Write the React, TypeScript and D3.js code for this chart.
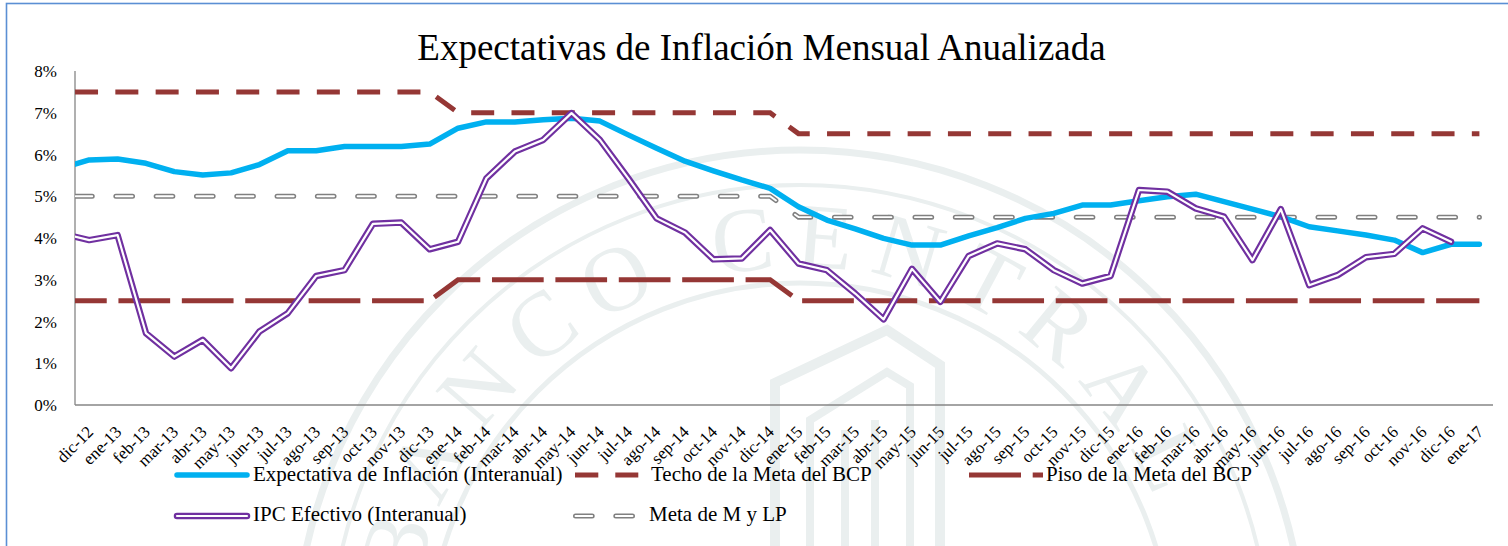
import React from "react";
import * as d3 from "d3";

// first period (nov-12) sits left of the axis and is clipped, like the source chart
const periods = [
  "nov-12", "dic-12",
  "ene-13", "feb-13", "mar-13", "abr-13", "may-13", "jun-13", "jul-13", "ago-13", "sep-13", "oct-13", "nov-13", "dic-13",
  "ene-14", "feb-14", "mar-14", "abr-14", "may-14", "jun-14", "jul-14", "ago-14", "sep-14", "oct-14", "nov-14", "dic-14",
  "ene-15", "feb-15", "mar-15", "abr-15", "may-15", "jun-15", "jul-15", "ago-15", "sep-15", "oct-15", "nov-15", "dic-15",
  "ene-16", "feb-16", "mar-16", "abr-16", "may-16", "jun-16", "jul-16", "ago-16", "sep-16", "oct-16", "nov-16", "dic-16",
  "ene-17",
];

const expectativa = [
  5.67, 5.87,
  5.89, 5.79, 5.59, 5.51, 5.56, 5.76, 6.09, 6.09, 6.19, 6.19, 6.19, 6.25,
  6.63, 6.78, 6.78, 6.83, 6.87, 6.8, 6.47, 6.15, 5.84, 5.61, 5.39, 5.19,
  4.75, 4.43, 4.22, 3.99, 3.83, 3.83, 4.05, 4.25, 4.47, 4.59, 4.79, 4.79,
  4.89, 4.99, 5.05, 4.87, 4.69, 4.51, 4.27, 4.17, 4.07, 3.95, 3.65, 3.85,
  3.85,
];

const ipc = [
  4.11, 3.95,
  4.07, 1.72, 1.16, 1.56, 0.88, 1.76, 2.2, 3.09, 3.23, 4.34, 4.37, 3.73,
  3.91, 5.43, 6.07, 6.35, 6.99, 6.35, 5.43, 4.47, 4.13, 3.49, 3.51, 4.19,
  3.39, 3.23, 2.67, 2.05, 3.26, 2.47, 3.57, 3.87, 3.73, 3.23, 2.91, 3.09,
  5.15, 5.11, 4.71, 4.51, 3.47, 4.69, 2.87, 3.11, 3.54, 3.62, 4.23, 3.91,
  null,
];

const techo = [
  7.5, 7.5,
  7.5, 7.5, 7.5, 7.5, 7.5, 7.5, 7.5, 7.5, 7.5, 7.5, 7.5, 7.5,
  7, 7, 7, 7, 7, 7, 7, 7, 7, 7, 7, 7,
  6.5, 6.5, 6.5, 6.5, 6.5, 6.5, 6.5, 6.5, 6.5, 6.5, 6.5, 6.5,
  6.5, 6.5, 6.5, 6.5, 6.5, 6.5, 6.5, 6.5, 6.5, 6.5, 6.5, 6.5,
  6.5,
];

const piso = [
  2.5, 2.5,
  2.5, 2.5, 2.5, 2.5, 2.5, 2.5, 2.5, 2.5, 2.5, 2.5, 2.5, 2.5,
  3, 3, 3, 3, 3, 3, 3, 3, 3, 3, 3, 3,
  2.5, 2.5, 2.5, 2.5, 2.5, 2.5, 2.5, 2.5, 2.5, 2.5, 2.5, 2.5,
  2.5, 2.5, 2.5, 2.5, 2.5, 2.5, 2.5, 2.5, 2.5, 2.5, 2.5, 2.5,
  2.5,
];

const meta = [
  5, 5,
  5, 5, 5, 5, 5, 5, 5, 5, 5, 5, 5, 5,
  5, 5, 5, 5, 5, 5, 5, 5, 5, 5, 5, 5,
  4.5, 4.5, 4.5, 4.5, 4.5, 4.5, 4.5, 4.5, 4.5, 4.5, 4.5, 4.5,
  4.5, 4.5, 4.5, 4.5, 4.5, 4.5, 4.5, 4.5, 4.5, 4.5, 4.5, 4.5,
  4.5,
];

const yTicks = [0, 1, 2, 3, 4, 5, 6, 7, 8];
const titleText = "Expectativas de Inflación Mensual Anualizada";
const labelExpectativa = "Expectativa de Inflación (Interanual)";
const labelTecho = "Techo de la Meta del BCP";
const labelPiso = "Piso de la Meta del BCP";
const labelIpc = "IPC Efectivo (Interanual)";
const labelMeta = "Meta de M y LP";

const W = 1508;
const H = 546;
const margin = { left: 75, right: 1493, top: 71, bottom: 405 };
const serif = { fontFamily: '"Liberation Serif", "DejaVu Serif", serif' };

const BLUE = "#00B0F0";
const PURPLE = "#7030A0";
const RED = "#953735";
const GRAY = "#808080";
const WM = "#EAEFEF";

function Watermark() {
  const cx = 800;
  const cy = 655;
  const r = 388;
  const arc = `M${cx - r},${cy} A${r},${r} 0 0 1 ${cx + r},${cy}`;
  return (
    <g fill="none" stroke={WM}>
      <circle cx={cx} cy={cy} r={505} strokeWidth={7} />
      <circle cx={cx} cy={cy} r={470} strokeWidth={4} />
      <circle cx={cx} cy={cy} r={372} strokeWidth={5} />
      <path id="wm-arc" d={arc} stroke="none" />
      <text fill={WM} stroke="none" style={serif} fontSize={92} letterSpacing={18}>
        <textPath href="#wm-arc" startOffset="47%" textAnchor="middle">
          BANCO CENTRAL
        </textPath>
      </text>
      <polyline points="775,546 775,383 887,330 940,365 940,546" strokeWidth={10} />
      <polyline points="810,546 810,420 887,372 910,386 910,546" strokeWidth={8} />
      <line x1={845} y1={546} x2={845} y2={430} strokeWidth={8} />
      <line x1={875} y1={546} x2={875} y2={420} strokeWidth={8} />
    </g>
  );
}

export default function App() {
  const x = d3.scalePoint<string>().domain(periods).range([60.84, 1479.4]);
  const y = d3.scaleLinear().domain([0, 8]).range([margin.bottom, margin.top]);

  const path = (vals: (number | null)[]) =>
    d3
      .line<number | null>()
      .defined((v) => v != null)
      .x((_, i) => x(periods[i]) as number)
      .y((v) => y(v as number))(vals) || "";

  const lx1 = 177;
  const lx2 = 247;
  const row1 = 475;
  const row2 = 516;

  return (
    <svg
      width={W}
      height={H}
      style={{ position: "absolute", left: 0, top: 0, display: "block", background: "#fff" }}
    >
      <rect width={W} height={H} fill="#fff" />
      <Watermark />
      <rect x={6.5} y={3.5} width={W + 20} height={H + 20} fill="none" stroke="#5B8FD4" strokeWidth={1.6} />

      <text x={761.5} y={60} textAnchor="middle" style={serif} fontSize={37} fill="#000">
        {titleText}
      </text>

      {/* axes */}
      <line x1={margin.left} x2={margin.left} y1={margin.top} y2={margin.bottom} stroke="#868686" strokeWidth={1.3} />
      <line x1={margin.left} x2={margin.right} y1={margin.bottom} y2={margin.bottom} stroke="#868686" strokeWidth={1.3} />
      {yTicks.map((t) => (
        <text key={t} x={57} y={y(t) + 6} textAnchor="end" style={serif} fontSize={17} fill="#000">
          {t}%
        </text>
      ))}
      {periods.slice(1).map((p) => (
        <text
          key={p}
          transform={`translate(${(x(p) as number) + 5},${433}) rotate(-45)`}
          textAnchor="end"
          style={serif}
          fontSize={17}
          fill="#000"
        >
          {p}
        </text>
      ))}

      <clipPath id="plot-clip">
        <rect x={margin.left} y={0} width={margin.right - margin.left + 10} height={margin.bottom} />
      </clipPath>

      <g clipPath="url(#plot-clip)" fill="none">
        <path d={path(meta)} stroke={GRAY} strokeWidth={5} strokeDasharray="16.7 23.6" strokeDashoffset={25.6} strokeLinecap="round" />
        <path d={path(meta)} stroke="#fff" strokeWidth={1.9} strokeDasharray="16.7 23.6" strokeDashoffset={25.6} strokeLinecap="round" />
        <path d={path(techo)} stroke={RED} strokeWidth={5} strokeDasharray="23 17.3" strokeDashoffset={26.1} />
        <path d={path(piso)} stroke={RED} strokeWidth={5} strokeDasharray="51.7 11.7" strokeDashoffset={5.8} />
        <path d={path(expectativa)} stroke={BLUE} strokeWidth={5.5} strokeLinejoin="round" strokeLinecap="round" />
        <path d={path(ipc)} stroke={PURPLE} strokeWidth={6.5} strokeLinejoin="round" strokeLinecap="round" />
        <path d={path(ipc)} stroke="#fff" strokeWidth={2.2} strokeLinejoin="round" strokeLinecap="round" />
      </g>

      {/* legend */}
      <g style={serif} fontSize={21} fill="#000">
        <line x1={lx1} x2={lx2} y1={row1} y2={row1} stroke={BLUE} strokeWidth={5.5} strokeLinecap="round" />
        <text x={253} y={row1 + 6}>{labelExpectativa}</text>

        <line x1={575} x2={638.3} y1={row1} y2={row1} stroke={RED} strokeWidth={5} strokeDasharray="23.3 17" />
        <text x={651} y={row1 + 6}>{labelTecho}</text>

        <line x1={969} x2={1043} y1={row1} y2={row1} stroke={RED} strokeWidth={5} strokeDasharray="52 11.7" />
        <text x={1046} y={row1 + 6}>{labelPiso}</text>

        <line x1={lx1} x2={lx2} y1={row2} y2={row2} stroke={PURPLE} strokeWidth={6.5} strokeLinecap="round" />
        <line x1={lx1} x2={lx2} y1={row2} y2={row2} stroke="#fff" strokeWidth={2.2} strokeLinecap="round" />
        <text x={253} y={row2 + 5}>{labelIpc}</text>

        <line x1={575.5} x2={632.5} y1={row2} y2={row2} stroke={GRAY} strokeWidth={5} strokeDasharray="16.7 23.6" strokeLinecap="round" />
        <line x1={575.5} x2={632.5} y1={row2} y2={row2} stroke="#fff" strokeWidth={1.9} strokeDasharray="16.7 23.6" strokeLinecap="round" />
        <text x={649} y={row2 + 5}>{labelMeta}</text>
      </g>
    </svg>
  );
}
